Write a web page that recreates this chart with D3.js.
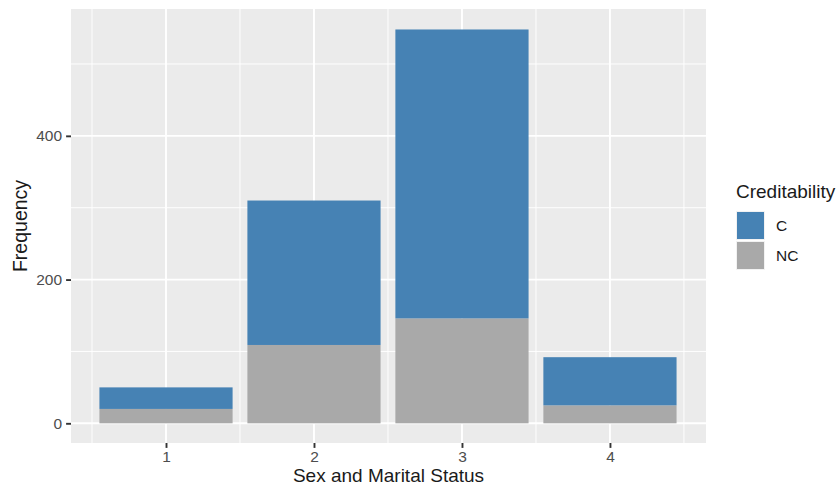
<!DOCTYPE html>
<html><head><meta charset="utf-8">
<script src="https://cdn.jsdelivr.net/npm/d3@7"></script>
<style>body{margin:0;background:#fff}svg{display:block}text{font-family:"Liberation Sans",Arial,Helvetica,sans-serif}</style>
</head><body><svg id="c" width="838" height="487"></svg>
<script>
const categories = ["1", "2", "3", "4"];
const seriesNames = ["C", "NC"];
const valuesC = [30, 201, 402, 67];
const valuesNC = [20, 109, 146, 25];
const yTicks = [0, 200, 400];
const yMinor = [100, 300, 500];
const colors = {C: "#4682B4", NC: "#A9A9A9"};

const svg = d3.select("#c");
const L = 71, R = 706, T = 9, B = 443;
const x = d3.scaleLinear().domain([0.358, 4.649]).range([L, R]);
const y = d3.scaleLinear().domain([-27.4, 576.5]).range([B, T]);
const step = x(2) - x(1);
const bw = step * 0.9;

svg.append("rect").attr("x", L).attr("y", T).attr("width", R - L).attr("height", B - T).attr("fill", "#EBEBEB");
const g = svg.append("g");
// minor grid
yMinor.forEach(v => g.append("line").attr("x1", L).attr("x2", R).attr("y1", y(v)).attr("y2", y(v)).attr("stroke", "#fff").attr("stroke-width", 0.95));
categories.forEach((c, i) => {
  [i + 0.5].concat(i === categories.length - 1 ? [i + 1.5] : []).forEach(p =>
    g.append("line").attr("x1", x(p)).attr("x2", x(p)).attr("y1", T).attr("y2", B).attr("stroke", "#fff").attr("stroke-width", 0.95));
});
// major grid
yTicks.forEach(v => g.append("line").attr("x1", L).attr("x2", R).attr("y1", y(v)).attr("y2", y(v)).attr("stroke", "#fff").attr("stroke-width", 1.9));
categories.forEach((c, i) => g.append("line").attr("x1", x(i + 1)).attr("x2", x(i + 1)).attr("y1", T).attr("y2", B).attr("stroke", "#fff").attr("stroke-width", 1.9));

// stacked bars
const rows = categories.map((c, i) => ({cat: c, pos: i + 1, C: valuesC[i], NC: valuesNC[i]}));
const stack = d3.stack().keys(["NC", "C"])(rows);
stack.forEach(layer => {
  svg.append("g").selectAll("rect").data(layer).join("rect")
    .attr("x", d => x(d.data.pos) - bw / 2)
    .attr("width", bw)
    .attr("y", d => y(d[1]))
    .attr("height", d => y(d[0]) - y(d[1]))
    .attr("fill", colors[layer.key]);
});

// axes
const yAxis = svg.append("g").attr("transform", `translate(${L},0)`)
  .call(d3.axisLeft(y).tickValues(yTicks).tickSize(4.9).tickPadding(4));
const xAxis = svg.append("g").attr("transform", `translate(0,${B})`)
  .call(d3.axisBottom(x).tickValues(categories.map((c, i) => i + 1)).tickFormat((d, i) => categories[i]).tickSize(4.9).tickPadding(3));
[yAxis, xAxis].forEach(a => {
  a.select(".domain").remove();
  a.selectAll(".tick line").attr("stroke", "#333").attr("stroke-width", 1.9);
  a.selectAll(".tick text").attr("fill", "#4D4D4D").style("font-size", "15.5px").style("font-family", '"Liberation Sans",Arial,sans-serif');
});

svg.append("text").attr("x", (L + R) / 2).attr("y", 482).attr("text-anchor", "middle")
  .style("font-size", "19px").attr("fill", "#1a1a1a").text("Sex and Marital Status");
svg.append("text").attr("transform", `translate(27,${(T + B) / 2}) rotate(-90)`).attr("text-anchor", "middle")
  .style("font-size", "19.5px").attr("fill", "#1a1a1a").text("Frequency");

// legend
const lg = svg.append("g");
lg.append("text").attr("x", 736).attr("y", 198).style("font-size", "19px").attr("fill", "#1a1a1a").text("Creditability");
seriesNames.forEach((s, i) => {
  const ky = 210.5 + i * 30;
  lg.append("rect").attr("x", 735.5).attr("y", ky).attr("width", 30).attr("height", 30).attr("fill", "#F2F2F2").attr("stroke", "#fff").attr("stroke-width", 1);
  lg.append("rect").attr("x", 737).attr("y", ky + 1.5).attr("width", 27).attr("height", 27).attr("fill", colors[s]);
  lg.append("text").attr("x", 776).attr("y", ky + 15).attr("dy", "0.35em").style("font-size", "15.5px").attr("fill", "#1a1a1a").text(s);
});
</script></body></html>
